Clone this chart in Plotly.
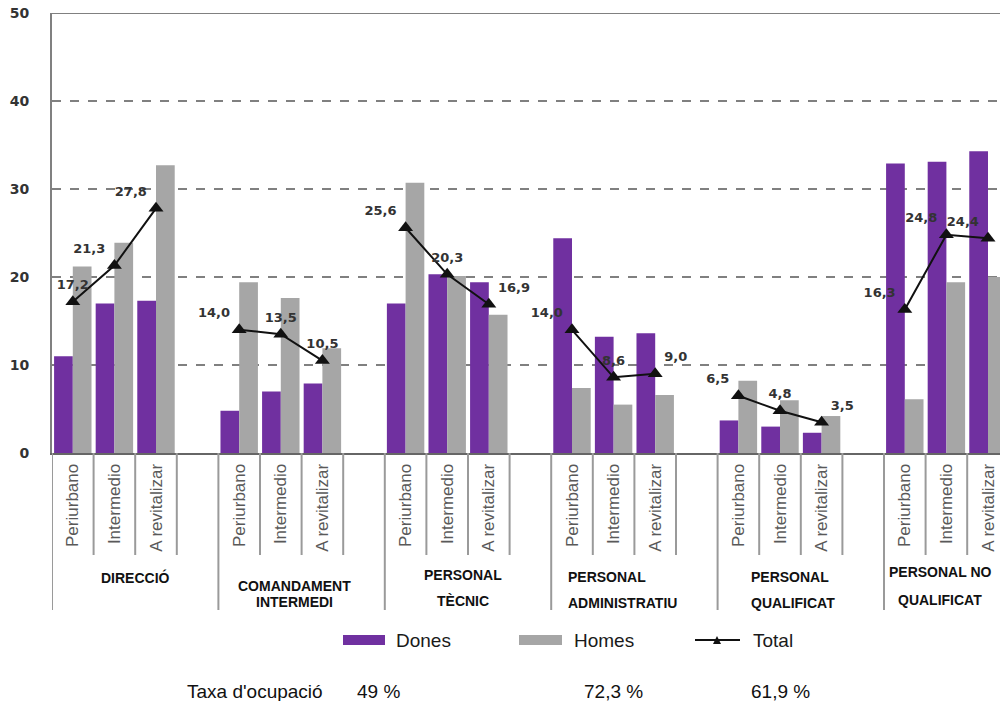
import plotly.graph_objects as go

# categories
groups = [["DIRECCIÓ"], ["COMANDAMENT", "INTERMEDI"], ["PERSONAL", "TÈCNIC"],
          ["PERSONAL", "ADMINISTRATIU"], ["PERSONAL", "QUALIFICAT"], ["PERSONAL NO", "QUALIFICAT"]]
zones = ["Periurbano", "Intermedio", "A revitalizar"]

# series values (%), 3 zones per group
dones = [11.0, 17.0, 17.3, 4.8, 7.0, 7.9, 17.0, 20.3, 19.4,
         24.4, 13.2, 13.6, 3.7, 3.0, 2.3, 32.9, 33.1, 34.3]
homes = [21.2, 23.9, 32.7, 19.4, 17.6, 11.9, 30.7, 20.1, 15.7,
         7.4, 5.5, 6.6, 8.2, 6.0, 4.2, 6.1, 19.4, 20.0]
total = [17.2, 21.3, 27.8, 14.0, 13.5, 10.5, 25.6, 20.3, 16.9,
         14.0, 8.6, 9.0, 6.5, 4.8, 3.5, 16.3, 24.8, 24.4]

occupancy_title = "Taxa d'ocupació"
occupancy = ["49 %", "72,3 %", "61,9 %"]

PURPLE = "#7030a0"
GREY = "#a6a6a6"

# each group takes 4 slots: 3 zones + 1 empty slot
xs = [g * 4 + j for g in range(len(groups)) for j in range(len(zones))]
ticktext = [zones[j] for g in range(len(groups)) for j in range(len(zones))]

# total line, broken between groups
lx, ly, lt = [], [], []
for g in range(len(groups)):
    for j in range(3):
        i = g * 3 + j
        lx.append(xs[i])
        ly.append(total[i])
        lt.append(f"{total[i]:.1f}".replace(".", ","))
    lx.append(None); ly.append(None); lt.append("")

text_pos = ["top center", "top left", "top left", None,
            "top left", "top center", "top center", None,
            "top left", "top center", "top right", None,
            "top left", "top center", "top right", None,
            "top left", "top center", "top right", None,
            "top left", "top left", "top left", None]
text_pos = [p or "top center" for p in text_pos]

fig = go.Figure()
fig.add_trace(go.Bar(x=xs, y=dones, name="Dones", marker_color=PURPLE, marker_line_width=0))
fig.add_trace(go.Bar(x=xs, y=homes, name="Homes", marker_color=GREY, marker_line_width=0))
fig.add_trace(go.Scatter(
    x=lx, y=ly, text=lt, name="Total", mode="lines+markers+text",
    line=dict(color="#111", width=2),
    marker=dict(symbol="triangle-up", size=13, color="#111"),
    textposition=text_pos,
    textfont=dict(family="DejaVu Sans", size=13, color="#333", weight="bold"),
    cliponaxis=False, connectgaps=False,
))

L, W, B0, H = 52, 948, 453, 440


def px(p):
    return (p - L) / W


def py(p):
    return (B0 - p) / H


shapes = []
# top frame line
shapes.append(dict(type="line", xref="paper", yref="y", x0=0, x1=1, y0=50, y1=50,
                   line=dict(color="#808080", width=2)))
# separators under the axis
for k in range(24):
    long_line = k % 4 == 0
    shapes.append(dict(type="line", xref="x", yref="paper", x0=k - 0.5, x1=k - 0.5,
                       y0=0, y1=py(610) if long_line else py(555),
                       line=dict(color="#9a9a9a", width=2)))

# manual legend
ly0 = 640
shapes.append(dict(type="rect", xref="paper", yref="paper", x0=px(343), x1=px(385),
                   y0=py(ly0 + 5), y1=py(ly0 - 5), fillcolor=PURPLE, line_width=0))
shapes.append(dict(type="rect", xref="paper", yref="paper", x0=px(519), x1=px(562),
                   y0=py(ly0 + 5), y1=py(ly0 - 5), fillcolor=GREY, line_width=0))
shapes.append(dict(type="line", xref="paper", yref="paper", x0=px(695), x1=px(740),
                   y0=py(ly0), y1=py(ly0), line=dict(color="#111", width=2)))
shapes.append(dict(type="path", xref="paper", yref="paper",
                   path=f"M {px(713)},{py(ly0 + 4)} L {px(721)},{py(ly0 + 4)} L {px(717)},{py(ly0 - 4)} Z",
                   fillcolor="#111", line_width=0))

annotations = []
legend_font = dict(family="Liberation Sans, Arial", size=19, color="#1a1a1a")
for name, x0 in [("Dones", 394), ("Homes", 572), ("Total", 751)]:
    annotations.append(dict(text=name, xref="paper", yref="paper", x=px(x0), y=py(ly0),
                            xanchor="left", yanchor="middle", showarrow=False, font=legend_font))

# group labels
group_pos = [(135, "center", [577]), (294, "center", [586, 602]), (463, "center", [575, 601]),
             (566, "left", [577, 603]), (749, "left", [577, 603]), (940, "center", [572, 600])]
for lines, (gx, anchor, gys) in zip(groups, group_pos):
    for line, gy in zip(lines, gys):
        annotations.append(dict(text=line, xref="paper", yref="paper", x=px(gx), y=py(gy),
                                xanchor=anchor, yanchor="middle", showarrow=False,
                                font=dict(family="Liberation Sans, Arial", size=14,
                                          color="#111", weight="bold")))

# occupancy row
for t, x0 in zip([occupancy_title] + occupancy, [185, 355, 582, 749]):
    annotations.append(dict(text=t, xref="paper", yref="paper", x=px(x0), y=py(691),
                            xanchor="left", yanchor="middle", showarrow=False,
                            font=dict(family="Liberation Sans, Arial", size=19, color="#111")))

fig.update_layout(
    width=1000, height=701, autosize=False,
    margin=dict(l=L, r=0, t=13, b=701 - B0),
    paper_bgcolor="white", plot_bgcolor="white",
    barmode="group", bargap=0.1, bargroupgap=0,
    showlegend=False,
    shapes=shapes, annotations=annotations,
    xaxis=dict(range=[-0.5, -0.5 + W / 41.6], tickvals=xs, ticktext=ticktext,
               tickangle=-90, ticks="", showgrid=False, zeroline=False,
               showline=True, linecolor="#666", linewidth=2, ticklabelstandoff=2,
               tickfont=dict(family="Liberation Sans, Arial", size=17, color="#595959")),
    yaxis=dict(range=[0, 50], tickvals=[0, 10, 20, 30, 40, 50], showgrid=True,
               gridcolor="#808080", gridwidth=1.5, griddash="dash", zeroline=False,
               showline=True, linecolor="#808080", linewidth=2, ticks="",
               ticklabelstandoff=18,
               tickfont=dict(family="DejaVu Sans", size=14, color="#333", weight="bold")),
)

fig.write_html("out.html", config={"displayModeBar": False},
               post_script="document.body.style.margin='0';document.body.style.overflow='hidden';")
